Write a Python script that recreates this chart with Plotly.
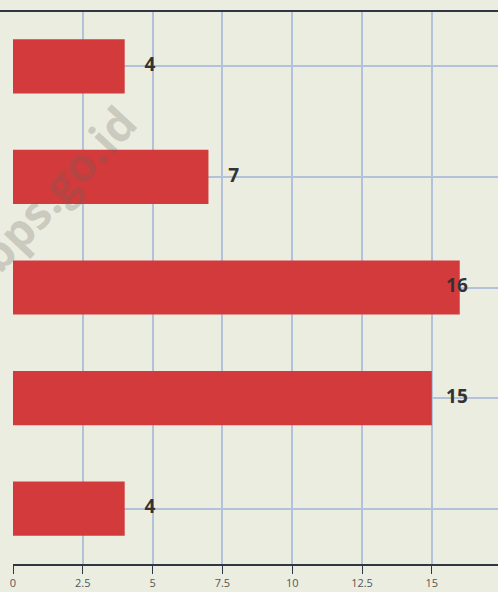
import plotly.graph_objects as go

categories = ["Kategori 1", "Kategori 2", "Kategori 3", "Kategori 4", "Kategori 5"]
values = [4, 7, 16, 15, 4]
tick_vals = [0, 2.5, 5, 7.5, 10, 12.5, 15]
tick_text = ["0", "2.5", "5", "7.5", "10", "12.5", "15"]

label_x = [min(v + 0.9, 15.9) for v in values]

fig = go.Figure()
fig.add_trace(go.Bar(
    y=categories, x=values, orientation="h",
    marker=dict(color="#D23A3B", line=dict(width=0)),
    width=0.49, hoverinfo="x",
))
fig.add_trace(go.Scatter(
    y=categories, x=label_x, mode="text",
    text=[str(v) for v in values],
    textfont=dict(family="Open Sans", size=19, color="#333333", weight="bold"),
    textposition="middle center", hoverinfo="skip", cliponaxis=False,
))

fig.update_layout(
    width=498, height=592,
    margin=dict(l=13, r=0, t=11, b=28),
    paper_bgcolor="#ECEDE1", plot_bgcolor="#ECEDE1",
    showlegend=False,
    xaxis=dict(
        range=[0, 17.37], tickvals=tick_vals, ticktext=tick_text,
        showgrid=True, gridcolor="#B3C2DA", gridwidth=2,
        zeroline=False, showline=True, linecolor="#2E3845", linewidth=2,
        ticks="outside", ticklen=8, tickcolor="#2E3845", tickwidth=1,
        tickfont=dict(family="Open Sans", size=11, color="#555555"),
    ),
    yaxis=dict(
        categoryorder="array", categoryarray=categories,
        autorange="reversed",
        showgrid=True, gridcolor="#B3C2DA", gridwidth=2,
        showticklabels=False, zeroline=False, showline=False,
    ),
    shapes=[dict(type="line", xref="paper", yref="paper",
                 x0=-0.03, x1=1, y0=1, y1=1,
                 line=dict(color="#2E3845", width=2))],
    annotations=[dict(text="bps.go.id", xref="paper", yref="paper",
                      x=0.09, y=0.68, xanchor="center", yanchor="middle",
                      showarrow=False, textangle=-47,
                      font=dict(family="Open Sans", size=46, color="rgba(100,100,90,0.26)",
                                weight="bold"))],
)

fig.write_html("out.html", config={"displayModeBar": False},
               post_script="document.body.style.margin='0';")
